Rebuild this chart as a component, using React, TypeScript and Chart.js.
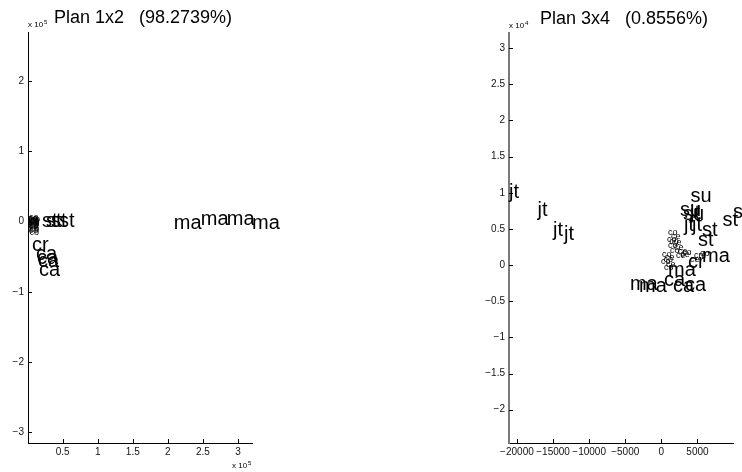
import React, { useEffect, useRef } from "react";
import { Chart, registerables } from "chart.js";
Chart.register(...registerables);

const FONT = "'Liberation Sans', Arial, Helvetica, sans-serif";

// ---------- Left plot: Plan 1x2 ----------
const leftTitle = "Plan 1x2   (98.2739%)";
const leftExponent = "5";
const leftBigLabels = ["st", "st", "st", "st", "ma", "ma", "ma", "ma", "cr", "ca", "ca", "ca", "ca"];
const leftBigX = [20500, 26200, 33300, 44700, 208500, 247000, 284000, 320000, 6300, 12000, 13400, 14800, 16200];
const leftBigY = [-400, 1000, -400, -400, -1900, 3800, 3800, -1900, -33200, -46000, -51700, -56000, -68800];
const leftSmallLabels = [
  "co", "ce", "co", "ce", "co", "ce", "co", "ce", "co", "ce", "co", "ce", "co", "ce",
  "co", "ce", "co", "ce", "co", "ce",
];
const leftSmallX = [
  700, 1500, 2400, 3300, 900, 1800, 2800, 3800, 1200, 2200, 3000, 1600, 2600, 3400,
  1000, 2000, 4200, 1400, 3600, 2500,
];
const leftSmallY = [
  5000, 3500, 2200, 500, -500, -2000, -3500, 1500, -6000, -8500, -11000, -13000, -15500, -5000,
  4000, 6000, 2800, 1000, -1500, -7000,
];
const leftXTicks = [50000, 100000, 150000, 200000, 250000, 300000];
const leftYTicks = [-300000, -200000, -100000, 0, 100000, 200000];
const leftXRange = [600, 320000];
const leftYRange = [-315000, 270000];

// ---------- Right plot: Plan 3x4 ----------
const rightTitle = "Plan 3x4   (0.8556%)";
const rightExponent = "4";
const rightBigLabels = [
  "jt", "jt", "jt", "jt", "su", "su", "su", "jt", "jt", "jt", "st", "st", "st", "st",
  "ma", "ma", "cr", "ma", "ma", "ca", "ca", "ca",
];
const rightBigX = [
  -21100, -17160, -15013, -13490, 4030, 2576, 2992, 3961, 3130, 4238, 5623, 5069, 8462, 9917,
  5623, 914, 3684, -4349, -3102, 360, 1607, 3269,
];
const rightBigY = [
  10069, 7507, 4737, 4252, 9515, 7576, 7022, 7160, 5498, 5498, 4806, 3421, 6122, 7299,
  1205, -734, 373, -2687, -2964, -2132, -2964, -2825,
];
const rightSmallLabels = [
  "co", "ce", "co", "ce", "co", "ce", "co", "ce", "co", "ce", "co", "ce", "co", "ce", "co", "cm", "co", "ce",
  "co", "ce", "co",
];
const rightSmallX = [
  914, 1330, 776, 1468, 914, 1745, 1191, 2299, 2853, 2022, 83, 499, -55, 637, 360, 4515, 5346, 3961,
  1100, 2600, 300,
];
const rightSmallY = [
  4529, 3975, 3560, 3145, 2728, 2451, 2036, 1897, 1759, 1343, 1482, 1066, 512, 97, -318, 1343, 1620, 789,
  3300, 1500, 800,
];
const rightXTicks = [-20000, -15000, -10000, -5000, 0, 5000];
const rightYTicks = [-20000, -15000, -10000, -5000, 0, 5000, 10000, 15000, 20000, 25000, 30000];
const rightXRange = [-21100, 9920];
const rightYRange = [-24600, 32100];

const fmt = (v: number) => {
  const r = Math.round(v * 1000) / 1000;
  const s = String(Math.abs(r));
  return r < 0 ? "\u2212" + s : s;
};

type PlotCfg = {
  title: string;
  exponent: string;
  bottomExponent: boolean;
  big: { labels: string[]; x: number[]; y: number[] };
  small: { labels: string[]; x: number[]; y: number[] };
  xTicks: number[];
  yTicks: number[];
  xRange: number[];
  yRange: number[];
  xScaleDiv: number;
  yScaleDiv: number;
  padding: { left: number; right: number; top: number; bottom: number };
  yBorderColor: string;
  yBorderWidth: number;
};

function makeChart(canvas: HTMLCanvasElement, cfg: PlotCfg) {
  const toPts = (xs: number[], ys: number[]) => xs.map((x, i) => ({ x, y: ys[i] }));

  const marksPlugin = {
    id: "marks",
    afterDatasetsDraw(chart: any) {
      const ctx = chart.ctx;
      const xs = chart.scales.x;
      const ys = chart.scales.y;
      chart.data.datasets.forEach((ds: any) => {
        ctx.save();
        ctx.font = `${ds.fontSize}px ${FONT}`;
        ctx.fillStyle = "#000";
        ctx.textAlign = "left";
        ctx.textBaseline = "middle";
        ds.data.forEach((p: any, i: number) => {
          ctx.fillText(ds.textLabels[i], xs.getPixelForValue(p.x), ys.getPixelForValue(p.y));
        });
        ctx.restore();
      });
    },
    afterDraw(chart: any) {
      const ctx = chart.ctx;
      const xs = chart.scales.x;
      const ys = chart.scales.y;
      const { left, right, top, bottom } = chart.chartArea;
      ctx.save();
      ctx.strokeStyle = "#000";
      ctx.lineWidth = 1;
      ctx.beginPath();
      xs.ticks.forEach((t: any) => {
        const px = Math.round(xs.getPixelForValue(t.value)) + 0.5;
        ctx.moveTo(px, bottom);
        ctx.lineTo(px, bottom - 4);
      });
      ys.ticks.forEach((t: any) => {
        const py = Math.round(ys.getPixelForValue(t.value)) + 0.5;
        ctx.moveTo(left, py);
        ctx.lineTo(left + 4, py);
      });
      ctx.stroke();
      // title
      ctx.fillStyle = "#000";
      ctx.font = `18px ${FONT}`;
      ctx.textAlign = "center";
      ctx.textBaseline = "alphabetic";
      ctx.fillText(cfg.title, (left + right) / 2 + 3, top - 9);
      // exponent labels
      const drawExp = (x: number, y: number) => {
        ctx.textAlign = "left";
        ctx.textBaseline = "middle";
        ctx.font = `8px ${FONT}`;
        ctx.fillText("x 10", x, y);
        const w = ctx.measureText("x 10").width;
        ctx.font = `6px ${FONT}`;
        ctx.fillText(cfg.exponent, x + w + 1, y - 3);
      };
      drawExp(left, top - 7);
      if (cfg.bottomExponent) drawExp(right - 20, bottom + 23);
      ctx.restore();
    },
  };

  return new Chart(canvas, {
    type: "scatter",
    data: {
      datasets: [
        {
          data: toPts(cfg.small.x, cfg.small.y),
          textLabels: cfg.small.labels,
          fontSize: 9,
          pointRadius: 0,
          showLine: false,
        } as any,
        {
          data: toPts(cfg.big.x, cfg.big.y),
          textLabels: cfg.big.labels,
          fontSize: 20,
          pointRadius: 0,
          showLine: false,
        } as any,
      ],
    },
    options: {
      responsive: false,
      animation: false,
      events: [],
      layout: { padding: cfg.padding },
      plugins: { legend: { display: false }, tooltip: { enabled: false }, title: { display: false } },
      scales: {
        x: {
          type: "linear",
          position: "bottom",
          min: cfg.xRange[0],
          max: cfg.xRange[1],
          grid: { display: false, drawTicks: false },
          border: { display: true, color: "#000", width: 1 },
          afterBuildTicks: (scale: any) => {
            scale.ticks = cfg.xTicks.map((v) => ({ value: v }));
          },
          afterFit: (scale: any) => {
            scale.height = 29;
          },
          ticks: {
            padding: 3,
            maxRotation: 0,
            autoSkip: false,
            color: "#111",
            font: { family: FONT, size: 10 },
            callback: (v: any) => fmt(Number(v) / cfg.xScaleDiv),
          },
        },
        y: {
          type: "linear",
          position: "left",
          min: cfg.yRange[0],
          max: cfg.yRange[1],
          grid: { display: false, drawTicks: false },
          border: { display: true, color: cfg.yBorderColor, width: cfg.yBorderWidth },
          afterBuildTicks: (scale: any) => {
            scale.ticks = cfg.yTicks.map((v) => ({ value: v }));
          },
          afterFit: (scale: any) => {
            scale.width = 28;
          },
          ticks: {
            padding: 4,
            autoSkip: false,
            color: "#111",
            font: { family: FONT, size: 10 },
            callback: (v: any) => fmt(Number(v) / cfg.yScaleDiv),
          },
        },
      },
    } as any,
    plugins: [marksPlugin],
  });
}

export default function App() {
  const leftRef = useRef<HTMLCanvasElement>(null);
  const rightRef = useRef<HTMLCanvasElement>(null);

  useEffect(() => {
    const c1 = makeChart(leftRef.current!, {
      title: leftTitle,
      exponent: leftExponent,
      bottomExponent: true,
      big: { labels: leftBigLabels, x: leftBigX, y: leftBigY },
      small: { labels: leftSmallLabels, x: leftSmallX, y: leftSmallY },
      xTicks: leftXTicks,
      yTicks: leftYTicks,
      xRange: leftXRange,
      yRange: leftYRange,
      xScaleDiv: 1e5,
      yScaleDiv: 1e5,
      padding: { left: 0, right: 119, top: 32, bottom: 0 },
      yBorderColor: "#000",
      yBorderWidth: 1,
    });
    const c2 = makeChart(rightRef.current!, {
      title: rightTitle,
      exponent: rightExponent,
      bottomExponent: false,
      big: { labels: rightBigLabels, x: rightBigX, y: rightBigY },
      small: { labels: rightSmallLabels, x: rightSmallX, y: rightSmallY },
      xTicks: rightXTicks,
      yTicks: rightYTicks,
      xRange: rightXRange,
      yRange: rightYRange,
      xScaleDiv: 1,
      yScaleDiv: 1e4,
      padding: { left: 110, right: 9, top: 33, bottom: 0 },
      yBorderColor: "#7a7a7a",
      yBorderWidth: 2,
    });
    return () => {
      c1.destroy();
      c2.destroy();
    };
  }, []);

  return (
    <div style={{ position: "absolute", left: 0, top: 0, width: 742, height: 472, background: "#fff" }}>
      <canvas ref={leftRef} width={371} height={472} style={{ position: "absolute", left: 0, top: 0 }} />
      <canvas ref={rightRef} width={371} height={472} style={{ position: "absolute", left: 371, top: 0 }} />
    </div>
  );
}
